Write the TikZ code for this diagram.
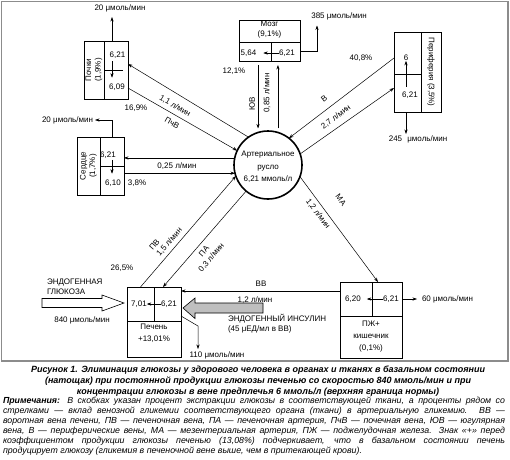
\documentclass[tikz,border=0pt]{standalone}
\usepackage{fontspec}
\setmainfont{Liberation Sans}
\usetikzlibrary{arrows.meta,calc}
\begin{document}
\begin{tikzpicture}[x=1pt,y=-1pt,
 every node/.style={inner sep=0pt,outer sep=0pt,font=\fontsize{8}{9.5}\selectfont},
 cell/.style={draw,line width=0.7pt},
 arr/.style={-{Stealth[length=4.5pt,width=3.2pt]},line width=0.5pt},
 ln/.style={line width=0.5pt}]
\useasboundingbox (0,0) rectangle (510,459);
\draw[line width=1.3pt, black!45] (1.5,1.5) rectangle (508,361);

% arterial circle
\node[draw,circle,line width=1.6pt,minimum size=68pt] (circ) at (268,165) {};
\node[align=center,font=\fontsize{8}{12.5}\selectfont] (circt) at (268,167) {Артериальное\\русло\\6,21 ммоль/л};

% kidneys
\node[cell,minimum width=20pt,minimum height=58pt] (kidL) at (94,70) {};
\node[rotate=90,align=center] (kidLt) at (kidL) {Почки\\(1,9\%)};
\node[cell,minimum width=24pt,minimum height=58pt] (kidR) at (116,70) {};
\node (kidA) at (117.5,55) {6,21};
\node (kidV) at (117,87) {6,09};
\draw[ln] (kidR.west) -- ++(19,0);
\draw[arr] ([xshift=-5.5pt,yshift=-3pt]kidA.south) -- ([xshift=-5pt,yshift=6pt]kidV.north);
\node (kidOut) at (120,8) {20 μмоль/мин};
\draw[arr] ([xshift=-4pt]kidR.north) -- ++(0,-24);
\node (kidP) at (136,108) {16,9\%};
\draw[arr] (circ.125) -- ([yshift=-23pt]kidR.north east);
\draw[arr] ([yshift=11pt]kidR.south east) -- (circ.155);
\node[rotate=-30] (kidF) at (175,106) {1,1 л/мин};
\node[rotate=-30] (kidN) at (172,123) {ПчВ};

% heart
\node[cell,minimum width=23pt,minimum height=58pt] (hrtL) at (88.5,166) {};
\node[rotate=90,align=center] (hrtLt) at (hrtL) {Сердце\\(1,7\%)};
\node[cell,minimum width=24pt,minimum height=29pt] (hrtA) at (112,151.5) {};
\node[cell,minimum width=24pt,minimum height=29pt] (hrtV) at (112,180.5) {};
\node (hA) at (108,155) {6,21};
\node (hV) at (113,183) {6,10};
\draw[arr] ([xshift=4pt,yshift=-1.5pt]hA.south) -- ([xshift=-1pt,yshift=6pt]hV.north);
\draw[arr] (hrtA.north) -- ++(0,-17) -- ++(-17,0);
\node[anchor=east] (hOut) at (93,120) {20 μмоль/мин};
\node (hP) at (137,183) {3,8\%};
\draw[arr] (circ.168) -- (circ.168 -| hrtA.east);
\draw[arr] (circ.-166 -| hrtV.east) -- (circ.-166);
\node (hF) at (177,166) {0,25 л/мин};

% brain
\node[cell,minimum width=61pt,minimum height=22pt] (brT) at (269.5,31) {};
\node[align=center,font=\fontsize{8}{10.5}\selectfont] (brTt) at (269.5,29.5) {Мозг\\(9,1\%)};
\node[cell,minimum width=32pt,minimum height=19pt] (brV) at (255,51.5) {};
\node[cell,minimum width=29pt,minimum height=19pt] (brA) at (285.5,51.5) {};
\node (brVt) at (248.5,53) {5,64};
\node (brAt) at (287,53) {6,21};
\draw[arr,shorten >=7pt] (brAt.west) -- (brVt.east);
\draw[arr] (brA.east) -- ++(17,0) -- ++(0,-26);
\node (brOut) at (339,16) {385 μмоль/мин};
\draw[arr,shorten <=4pt,shorten >=4pt] (circ.107 |- brV.south) -- (circ.107);
\draw[arr,shorten <=4pt,shorten >=4pt] (circ.73) -- (circ.73 |- brA.south);
\node[rotate=90] (brN) at (252,104) {ЮВ};
\node[rotate=90] (brF) at (267,93) {0,85 л/мин};
\node (brP) at (234,71) {12,1\%};

% periphery
\node[cell,minimum width=27pt,minimum height=42pt] (perV) at (407.5,53) {};
\node[cell,minimum width=27pt,minimum height=38pt] (perA) at (407.5,93) {};
\node[cell,minimum width=20pt,minimum height=80pt] (perR) at (431,72) {};
\node[rotate=-90] (perRt) at (perR) {Периферия (3,5\%)};
\node (perVt) at (406,58) {6};
\node (perAt) at (410,95) {6,21};
\draw[arr] ([xshift=-4pt,yshift=5pt]perAt.north) -- (perVt.south);
\draw[arr] ([xshift=-1.5pt]perA.south) -- ++(0,22);
\node (perOut) at (418,139) {245 \hspace{3pt}μмоль/мин};
\draw[arr] ([yshift=-5pt]perV.west) -- (circ.52.5);
\draw[arr] (circ.19) -- ([yshift=5pt]perA.west);
\node (perP) at (361,58) {40,8\%};
\node[rotate=37] (perN) at (324,99) {В};
\node[rotate=37] (perF) at (336,117) {2,7 л/мин};

% liver
\node[cell,minimum width=27pt,minimum height=34pt] (livV) at (140.5,304) {};
\node[cell,minimum width=27pt,minimum height=34pt] (livA) at (167.5,304) {};
\node[cell,minimum width=54pt,minimum height=36pt] (livB) at (154,339) {};
\node (livVt) at (139,304) {7,01};
\node (livAt) at (169,304) {6,21};
\draw[arr] (livAt.west) -- (livVt.east);
\node[align=center,font=\fontsize{8}{12}\selectfont] (livBt) at (154,333) {Печень\\+13,01\%};
\draw[arr] (livV.north) -- (circ.-161);
\draw[arr] (circ.-130) -- ([xshift=-4.5pt]livA.north);
\node[rotate=49,align=left] (livF1) at (166,239) {ПВ\\1,5 л/мин};
\node[rotate=49,align=center] (livF2) at (208,254.5) {ПА\\0,3 л/мин};
\node (livP) at (122,268) {26,5\%};
\draw[arr] ([yshift=-12pt]livA.east) -- ++(17,10) -- ++(0,23);
\node (livOut) at (217,355) {110 μмоль/мин};

% endogenous glucose
\draw[line width=0.6pt,fill=white] (42,298.5) -- (102,298.5) -- (102,295) -- (124,303) -- (102,311) -- (102,307.5) -- (42,307.5) -- cycle;
\node[anchor=west,align=left] (glu) at (47,286.5) {ЭНДОГЕННАЯ\\ГЛЮКОЗА};
\node (gluF) at (82,320) {840 μмоль/мин};

% pancreas
\node[cell,minimum width=32pt,minimum height=34pt] (panV) at (356,299) {};
\node[cell,minimum width=30pt,minimum height=34pt] (panA) at (387,299) {};
\node[cell,minimum width=62pt,minimum height=42pt] (panB) at (371,337) {};
\node (panVt) at (353,299) {6,20};
\node (panAt) at (391,299) {6,21};
\draw[arr,shorten >=6pt] (panAt.west) -- (panVt.east);
\node[align=center,font=\fontsize{8}{12}\selectfont] (panBt) at (371,337) {ПЖ+\\кишечник\\(0,1\%)};
\draw[arr] (panA.east) -- ++(15,0);
\node[anchor=west] (panOut) at (422,299) {60 μмоль/мин};
\draw[arr] (circ.-20) -- ([xshift=-9pt]panA.north);
\node[rotate=-53] (panN) at (341,200) {МА};
\node[rotate=-53] (panF) at (318,214) {1,2 л/мин};

% portal vein
\draw[arr] ([yshift=8pt]panV.west) -- ([yshift=8pt]panV.west -| livA.east);
\node (vvN) at (261,284) {ВВ};
\node (vvF) at (255,300) {1,2 л/мин};

% insulin
\draw[line width=0.6pt,fill=black!25] (263,303) -- (195,303) -- (195,298) -- (183,308) -- (195,318.5) -- (195,313) -- (263,313) -- cycle;
\node[anchor=west,align=left,font=\fontsize{8}{10}\selectfont] (ins) at (228,324) {ЭНДОГЕННЫЙ ИНСУЛИН\\(45 μЕД/мл в ВВ)};

% caption
\node[align=center,font=\fontsize{9}{10.8}\selectfont\bfseries\itshape] (cap) at (258,381) {Рисунок 1. Элиминация глюкозы у здорового человека в органах и тканях в базальном состоянии\\(натощак) при постоянной продукции глюкозы печенью со скоростью 840 ммоль/мин и при\\концентрации глюкозы в вене предплечья 6 ммоль/л (верхняя граница нормы)};
\node[anchor=north,text width=502pt,align=justify,font=\fontsize{8.8}{10}\selectfont\itshape] (notes) at (254,397) {{\bfseries Примечания:} В скобках указан процент экстракции глюкозы в соответствующей ткани, а проценты рядом со\linebreak стрелками — вклад венозной гликемии соответствующего органа (ткани) в артериальную гликемию. ВВ —\linebreak воротная вена печени, ПВ — печеночная вена, ПА — печеночная артерия, ПчВ — почечная вена, ЮВ — югулярная\linebreak вена, В — периферические вены, МА — мезентериальная артерия, ПЖ — поджелудочная железа. Знак «+» перед\linebreak коэффициентом продукции глюкозы печенью (13,08\%) подчеркивает, что в базальном состоянии печень\linebreak продуцирует глюкозу (гликемия в печеночной вене выше, чем в притекающей крови).};
\end{tikzpicture}
\end{document}
